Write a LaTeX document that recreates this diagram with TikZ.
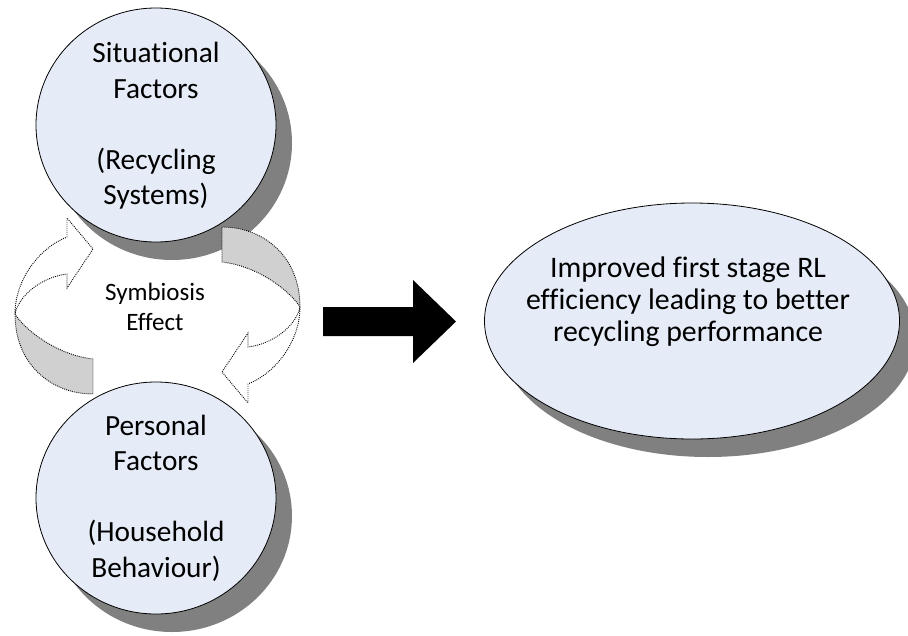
\documentclass[tikz,border=0pt]{standalone}
\usepackage{fontspec}
\setmainfont{Carlito}[Ligatures={CommonOff,ContextualOff}]
\usetikzlibrary{shapes.geometric,shadows}
\definecolor{bubblefill}{RGB}{230,236,247}
\definecolor{shadowc}{RGB}{128,128,128}
\definecolor{bandgray}{RGB}{208,208,208}
\tikzset{
  bubble/.style={ellipse, draw=black, line width=0.8pt, fill=bubblefill, inner sep=0pt,
    drop shadow={shadow xshift=16pt, shadow yshift=-18pt, fill=shadowc, opacity=1}},
  bigtext/.style={align=center, font=\fontsize{29.3}{35.5}\selectfont, inner sep=0pt},
  ovaltext/.style={align=center, font=\fontsize{29.8}{32}\selectfont, inner sep=0pt},
  midtext/.style={align=center, font=\fontsize{25}{30}\selectfont, inner sep=0pt},
  dotline/.style={draw=black, line width=0.9pt, dash pattern=on 0.9pt off 1.1pt},
  backband/.style={dotline, fill=bandgray},
  frontarrow/.style={dotline, fill=white},
  blockarrow/.style={fill=black}
}
\begin{document}
\begin{tikzpicture}[x=1pt,y=-1pt]
\useasboundingbox (0,0) rectangle (908,635);

% top circle
\node[bubble, minimum width=240pt, minimum height=234pt] (sit) at (156,125) {};
\node[bigtext] (sitT) at ([yshift=-1pt]sit.center) {Situational\\Factors\\\strut\\(Recycling\\Systems)};

% bottom circle
\node[bubble, minimum width=240pt, minimum height=232pt] (per) at (156,498) {};
\node[bigtext] (perT) at (per.center) {Personal\\Factors\\\strut\\(Household\\Behaviour)};

% result ellipse
\node[bubble, minimum width=415pt, minimum height=236pt] (res) at (692,321) {};
\node[ovaltext] (resT) at (688,302) {Improved first stage RL\\efficiency leading to better\\recycling performance};

% circular arrows
\foreach \cx/\cy/\rot in {157/310/0, 158/311/180}{
  \begin{scope}[shift={(\cx,\cy)}, rotate=\rot]
    \path[backband] (-142,4) .. controls (-132,20) and (-100,45) .. (-64,49)
      -- (-64,84) .. controls (-105,84) and (-142,55) .. (-142,4) -- cycle;
    \path[frontarrow] (-142,4) .. controls (-142,-30) and (-118,-62) .. (-90,-73)
      -- (-90,-92) -- (-64,-61) -- (-90,-22) -- (-90,-36)
      .. controls (-115,-33) and (-138,-15) .. (-142,4) -- cycle;
  \end{scope}
}
\node[midtext] (sym) at (155,307) {Symbiosis\\Effect};

% block arrow
\fill[blockarrow] (323,307) -- (413,307) -- (413,280) -- (456,321.5) -- (413,363)
  -- (413,336) -- (323,336) -- cycle;
\end{tikzpicture}
\end{document}
